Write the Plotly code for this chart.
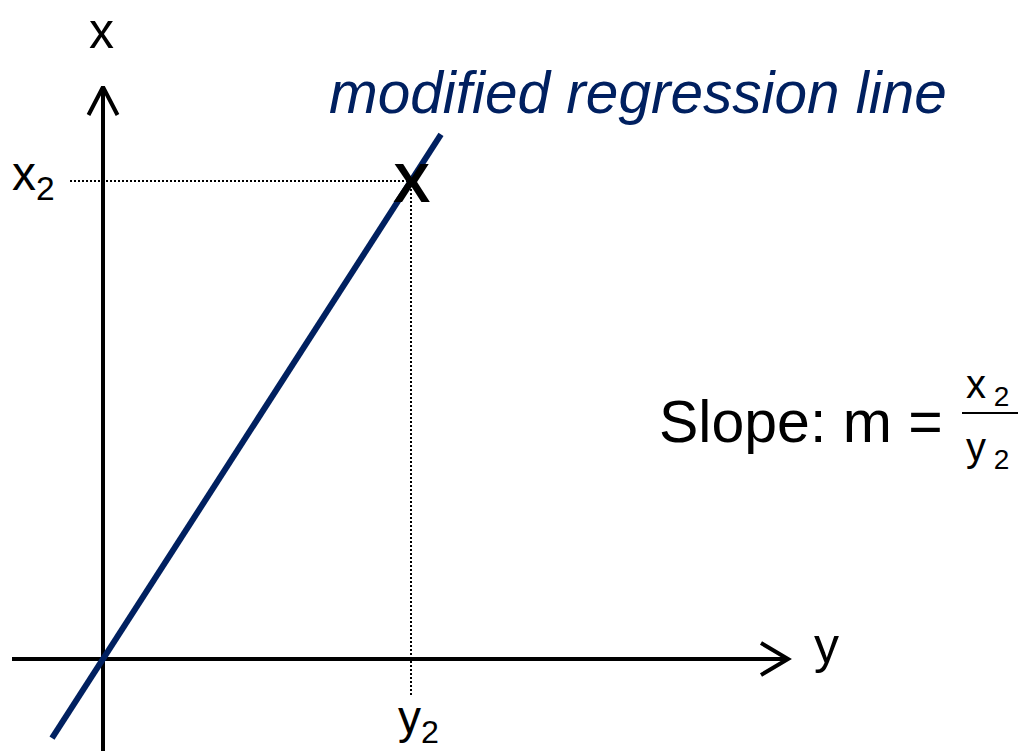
import plotly.graph_objects as go

# Reference point on the modified regression line (horizontal value y2, vertical value x2)
point_y2 = 3.08
point_x2 = 4.78
slope_m = point_x2 / point_y2

# Horizontal extent of the drawn regression line
line_y_start = -0.51
line_y_end = 3.38

# Axis extents (horizontal axis "y", vertical axis "x")
h_axis_from, h_axis_to = -0.91, 6.85
v_axis_from, v_axis_to = -0.95, 5.72

# Arrow chevron sizes (horizontal, vertical)
arrow_len_h, arrow_half_h = 0.27, 0.16
arrow_len_v, arrow_half_v = 0.28, 0.145

# Dotted guide line ends
guide_h_start = -0.33
guide_v_end = -0.37

FONT = "Liberation Sans, Arial, sans-serif"
NAVY = "#002060"
DOTS = dict(color="black", width=2, dash="2px,2px")

fig = go.Figure()

# Axes
fig.add_trace(go.Scatter(x=[h_axis_from, h_axis_to], y=[0, 0], mode="lines",
                         line=dict(color="black", width=4)))
fig.add_trace(go.Scatter(x=[0, 0], y=[v_axis_from, v_axis_to], mode="lines",
                         line=dict(color="black", width=4)))
# Open arrowheads
fig.add_trace(go.Scatter(
    x=[h_axis_to - arrow_len_h, h_axis_to, h_axis_to - arrow_len_h],
    y=[arrow_half_h, 0, -arrow_half_h], mode="lines",
    line=dict(color="black", width=4)))
fig.add_trace(go.Scatter(
    x=[-arrow_half_v, 0, arrow_half_v],
    y=[v_axis_to - arrow_len_v, v_axis_to, v_axis_to - arrow_len_v], mode="lines",
    line=dict(color="black", width=4)))

# Dotted guides to the point
fig.add_trace(go.Scatter(x=[guide_h_start, point_y2], y=[point_x2, point_x2],
                         mode="lines", line=DOTS))
fig.add_trace(go.Scatter(x=[point_y2, point_y2], y=[point_x2, guide_v_end],
                         mode="lines", line=DOTS))

# Modified regression line through the origin
fig.add_trace(go.Scatter(x=[line_y_start, line_y_end],
                         y=[slope_m * line_y_start, slope_m * line_y_end], mode="lines",
                         line=dict(color=NAVY, width=6)))

# Fraction bar of the slope formula
frac_bar_from, frac_bar_to, frac_bar_level = 8.59, 9.15, 2.46
fig.add_trace(go.Scatter(x=[frac_bar_from, frac_bar_to], y=[frac_bar_level, frac_bar_level],
                         mode="lines", line=dict(color="black", width=2)))

annotations = [
    dict(x=-0.02, y=6.28, text="x", font=dict(size=50), xanchor="center", yanchor="middle"),
    dict(x=7.23, y=0.13, text="y", font=dict(size=50), xanchor="center", yanchor="middle"),
    dict(x=-0.46, y=point_x2, yshift=4, text="x<sub>2</sub>", font=dict(size=48),
         xanchor="right", yanchor="middle"),
    dict(x=point_y2, y=guide_v_end, yshift=7, xshift=7, text="y<sub>2</sub>",
         font=dict(size=46), xanchor="center", yanchor="top"),
    dict(x=point_y2, y=point_x2, yshift=-1, text="<b>X</b>", font=dict(size=56),
         xanchor="center", yanchor="middle"),
    dict(x=2.24, y=5.67, text="<i>modified regression line</i>",
         font=dict(size=58.5, color=NAVY), xanchor="left", yanchor="middle"),
    dict(x=5.54, y=2.37, text="Slope: m =", font=dict(size=59),
         xanchor="left", yanchor="middle"),
    dict(x=8.84, y=2.72, text="x<sub> 2</sub>", font=dict(size=40),
         xanchor="center", yanchor="middle"),
    dict(x=8.84, y=2.09, text="y<sub> 2</sub>", font=dict(size=40),
         xanchor="center", yanchor="middle"),
]
for a in annotations:
    a.setdefault("showarrow", False)
    a["xref"] = "x"
    a["yref"] = "y"
    a["font"].setdefault("color", "black")
    a["font"]["family"] = FONT

fig.update_layout(
    width=1029, height=751,
    margin=dict(l=0, r=0, t=0, b=0),
    paper_bgcolor="white", plot_bgcolor="white",
    showlegend=False,
    annotations=annotations,
    xaxis=dict(range=[-1.03, 9.26], visible=False, fixedrange=True),
    yaxis=dict(range=[-0.92, 6.59], visible=False, fixedrange=True),
)

fig.write_html("out.html", config={"displayModeBar": False})
